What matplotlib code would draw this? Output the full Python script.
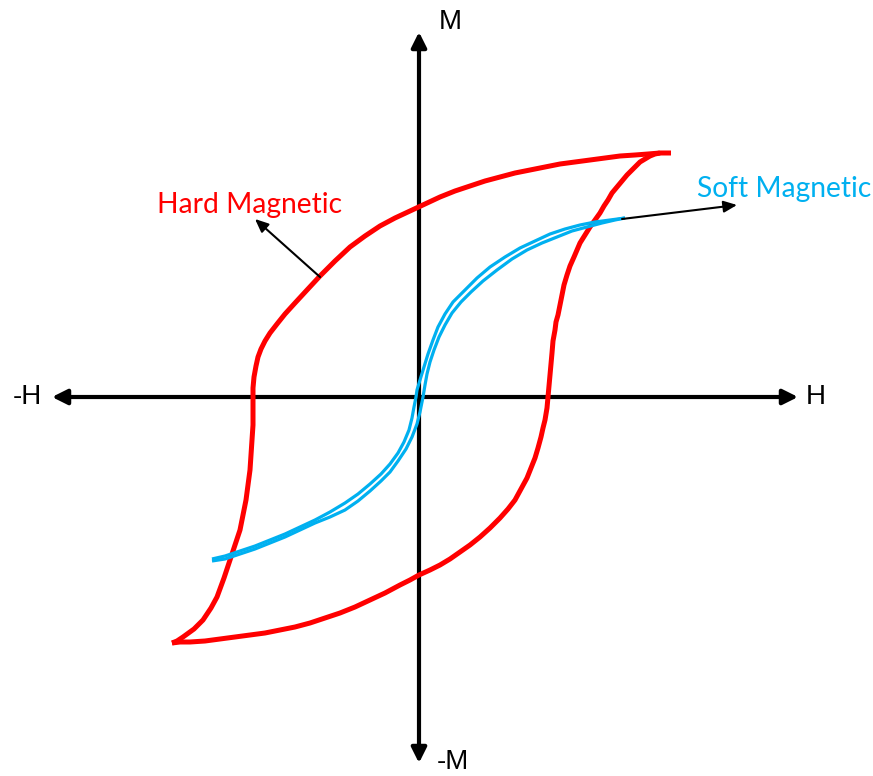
import matplotlib
matplotlib.use("Agg")
import matplotlib.pyplot as plt
from matplotlib.patches import ArrowStyle

# ---------------- data (H, M in arbitrary units, origin at centre) -------------
# Hard magnetic loop: descending (upper) branch, from +saturation to -saturation
hard_down_H = [252, 241, 229, 216, 201, 186, 171, 156, 141, 126, 111, 96, 81, 66, 51,
               36, 21, 6, -9, -24, -39, -54, -69, -84, -99, -112, -124, -134, -142,
               -149, -154, -158, -161, -163, -165, -166, -166, -166, -166, -167,
               -168, -169, -171, -173, -176, -179, -184, -189, -195, -202, -208, -216,
               -225, -236, -242, -247]
hard_down_M = [244, 244, 243, 242, 241, 239, 237, 235, 233, 230, 227, 224, 220, 216,
               211, 206, 200, 193, 186, 179, 171, 161, 150, 136, 121, 107, 94, 83, 73,
               64, 56, 48, 40, 31, 20, 9, 0, -13, -28, -43, -58, -73, -88, -103,
               -118, -133, -148, -163, -181, -200, -211, -223, -232, -240, -244, -246]
# Hard magnetic loop: ascending (lower) branch
hard_up_H = [-247, -239, -229, -214, -199, -184, -169, -154, -139, -124, -109, -94, -79,
             -64, -49, -34, -19, -9, 0, 11, 21, 31, 41, 51, 61, 71, 81, 89, 96, 102,
             108, 112, 116, 119, 122, 124, 126, 128, 129, 130, 131, 132, 133, 134, 136,
             137, 139, 141, 143, 145, 148, 151, 155, 158, 161, 166, 171, 176, 181, 185,
             189, 193, 198, 203, 208, 214, 221, 226, 231, 236, 241]
hard_up_M = [-246, -245, -245, -244, -242, -240, -238, -236, -233, -230, -226, -221,
             -216, -210, -203, -196, -188, -183, -178, -173, -168, -162, -155, -148,
             -140, -131, -121, -112, -103, -92, -81, -71, -61, -51, -40, -31, -23, -11,
             0, 11, 22, 33, 44, 56, 67, 75, 82, 92, 102, 112, 122, 131, 140, 147, 154,
             162, 170, 177, 184, 191, 197, 204, 210, 216, 222, 228, 235, 238, 241, 243,
             244]

# Soft magnetic loop: descending branch
soft_down_H = [206, 191, 176, 161, 146, 131, 116, 101, 86, 71, 58, 46, 34, 26, 19, 14,
               9, 5, 1, -2, -3, -5, -7, -10, -15, -21, -29, -38, -49, -61, -74, -89,
               -104, -119, -134, -149, -164, -179, -194, -207]
soft_down_M = [179, 177, 175, 172, 168, 163, 156, 149, 140, 130, 119, 107, 95, 83, 70,
               57, 43, 30, 17, 7, 0, -10, -21, -33, -45, -56, -67, -77, -87, -97, -106,
               -115, -123, -130, -137, -143, -149, -154, -159, -162]
# Soft magnetic loop: ascending branch
soft_up_H = [-207, -194, -179, -164, -149, -134, -119, -104, -89, -74, -61, -49, -38,
             -29, -21, -13, -7, -2, 1, 3, 4, 6, 8, 11, 15, 20, 26, 33, 42, 52, 64, 78,
             93, 108, 123, 138, 153, 168, 183, 196, 206]
soft_up_M = [-164, -162, -157, -152, -146, -140, -133, -126, -120, -113, -104, -94, -84,
             -75, -64, -52, -40, -27, -15, -5, 0, 12, 23, 35, 47, 60, 72, 84, 95, 105,
             116, 127, 138, 147, 154, 160, 166, 170, 174, 177, 179]

axis_labels = ["H", "-H", "M", "-M"]
curve_labels = ["Hard Magnetic", "Soft Magnetic"]

RED = "#FF0000"
BLUE = "#00B0F0"

# ---------------- figure ------------------------------------------------------
fig = plt.figure(figsize=(8.73, 7.76), dpi=100)
ax = fig.add_axes([0, 0, 1, 1])
ax.set_xlim(-419, 454)
ax.set_ylim(-379, 397)
ax.axis("off")

# axes arrows
ax_style = ArrowStyle("<|-|>", head_length=0.9, head_width=0.45)
ax.annotate("", xy=(379, 0), xytext=(-367, 0),
            arrowprops=dict(arrowstyle=ax_style, lw=3, color="black",
                            mutation_scale=10, shrinkA=0, shrinkB=0), zorder=1)
ax.annotate("", xy=(0, 365), xytext=(0, -366),
            arrowprops=dict(arrowstyle=ax_style, lw=3, color="black",
                            mutation_scale=10, shrinkA=0, shrinkB=0), zorder=1)

lab_font = dict(family="Liberation Sans", fontsize=20, color="black")
ax.text(397, 0, axis_labels[0], ha="center", va="center", **lab_font)
ax.text(-392, 0, axis_labels[1], ha="center", va="center", **lab_font)
ax.text(31, 375, axis_labels[2], ha="center", va="center", **lab_font)
ax.text(34, -365, axis_labels[3], ha="center", va="center", **lab_font)

# loops
line_kw = dict(solid_joinstyle="round", solid_capstyle="butt")
ax.plot(hard_down_H, hard_down_M, color=RED, lw=3.6, zorder=3, **line_kw)
ax.plot(hard_up_H, hard_up_M, color=RED, lw=3.6, zorder=3, **line_kw)
ax.plot(soft_down_H, soft_down_M, color=BLUE, lw=2.3, zorder=4, **line_kw)
ax.plot(soft_up_H, soft_up_M, color=BLUE, lw=2.3, zorder=4, **line_kw)

# annotations
ann_style = ArrowStyle("-|>", head_length=0.8, head_width=0.35)
ax.annotate("", xy=(-164, 178), xytext=(-99, 120),
            arrowprops=dict(arrowstyle=ann_style, lw=1.5, color="black",
                            mutation_scale=10, shrinkA=0, shrinkB=0), zorder=5)
ax.annotate("", xy=(318, 192), xytext=(203, 178),
            arrowprops=dict(arrowstyle=ann_style, lw=1.5, color="black",
                            mutation_scale=10, shrinkA=0, shrinkB=0), zorder=5)

txt_font = dict(family="Lato", fontsize=20.3)
ax.text(-169, 192, curve_labels[0], ha="center", va="center", color=RED, **txt_font)
ax.text(365, 208, curve_labels[1], ha="center", va="center", color=BLUE, **txt_font)

fig.savefig("out.png", dpi=100)
